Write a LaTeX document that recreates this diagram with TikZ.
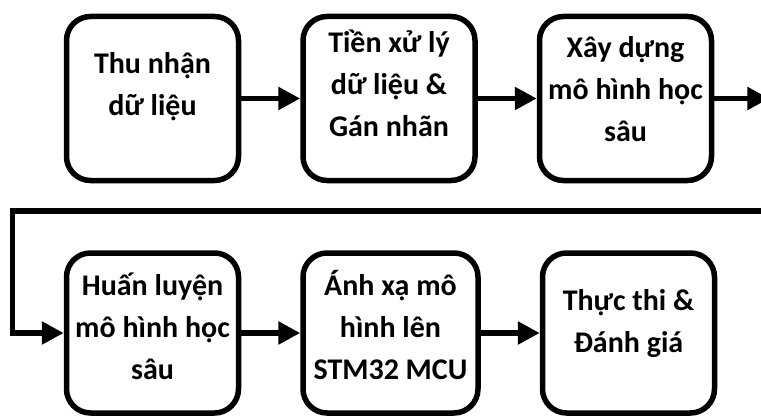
\documentclass[tikz,border=0pt]{standalone}
\usepackage{fontspec}
\setmainfont{Carlito}
\usetikzlibrary{positioning, arrows.meta}

% text of a box, lifted a little above its centre
\newcommand{\boxtext}[2][0pt]{\raisebox{#1}[\height][\depth]{\begin{tabular}{@{}c@{}}#2\end{tabular}}}

\begin{document}
\begin{tikzpicture}[x=1pt, y=1pt, node distance=67pt and 59pt, line width=5.5pt,
        block/.style={draw, rounded corners=24pt, minimum width=172pt, minimum height=164pt,
            inner sep=0pt, font=\fontsize{30}{42}\selectfont\bfseries},
        >={Triangle[length=22pt, width=22pt]}]
        \useasboundingbox (0,0) rectangle (761,416);

        \node[block] (collect) at (152.5,317.5) {\boxtext[12pt]{Thu nhận\\dữ liệu}};
        \node[block, right=of collect]                      (prep)    {\boxtext[12pt]{Tiền xử lý\\dữ liệu \&\\Gán nhãn}};
        \node[block, right=of prep]                         (design)  {\boxtext[7pt]{Xây dựng\\mô hình học\\sâu}};
        \node[block, minimum height=160pt, below=of collect] (train)   {\boxtext[4pt]{Huấn luyện\\mô hình học\\sâu}};
        \node[block, minimum height=160pt, minimum width=175pt, right=of train] (deploy) {\boxtext[4pt]{Ánh xạ mô\\hình lên\\STM32 MCU}};
        \node[block, minimum height=160pt, right=of deploy]  (eval)    {\boxtext[10pt]{Thực thi \&\\Đánh giá}};
        \coordinate[right=55pt of design] (exit);
        \coordinate (back r) at (770,205);
        \coordinate (back l) at (12.5,205);

        \draw[->] (collect) -- (prep);
        \draw[->] (prep)    -- (design);
        \draw[->] (design)  -- (exit);
        \draw[->] (back r)  -- (back l) |- (train);
        \draw[->] (train)   -- (deploy);
        \draw[->] (deploy)  -- (eval);
    \end{tikzpicture}
\end{document}
